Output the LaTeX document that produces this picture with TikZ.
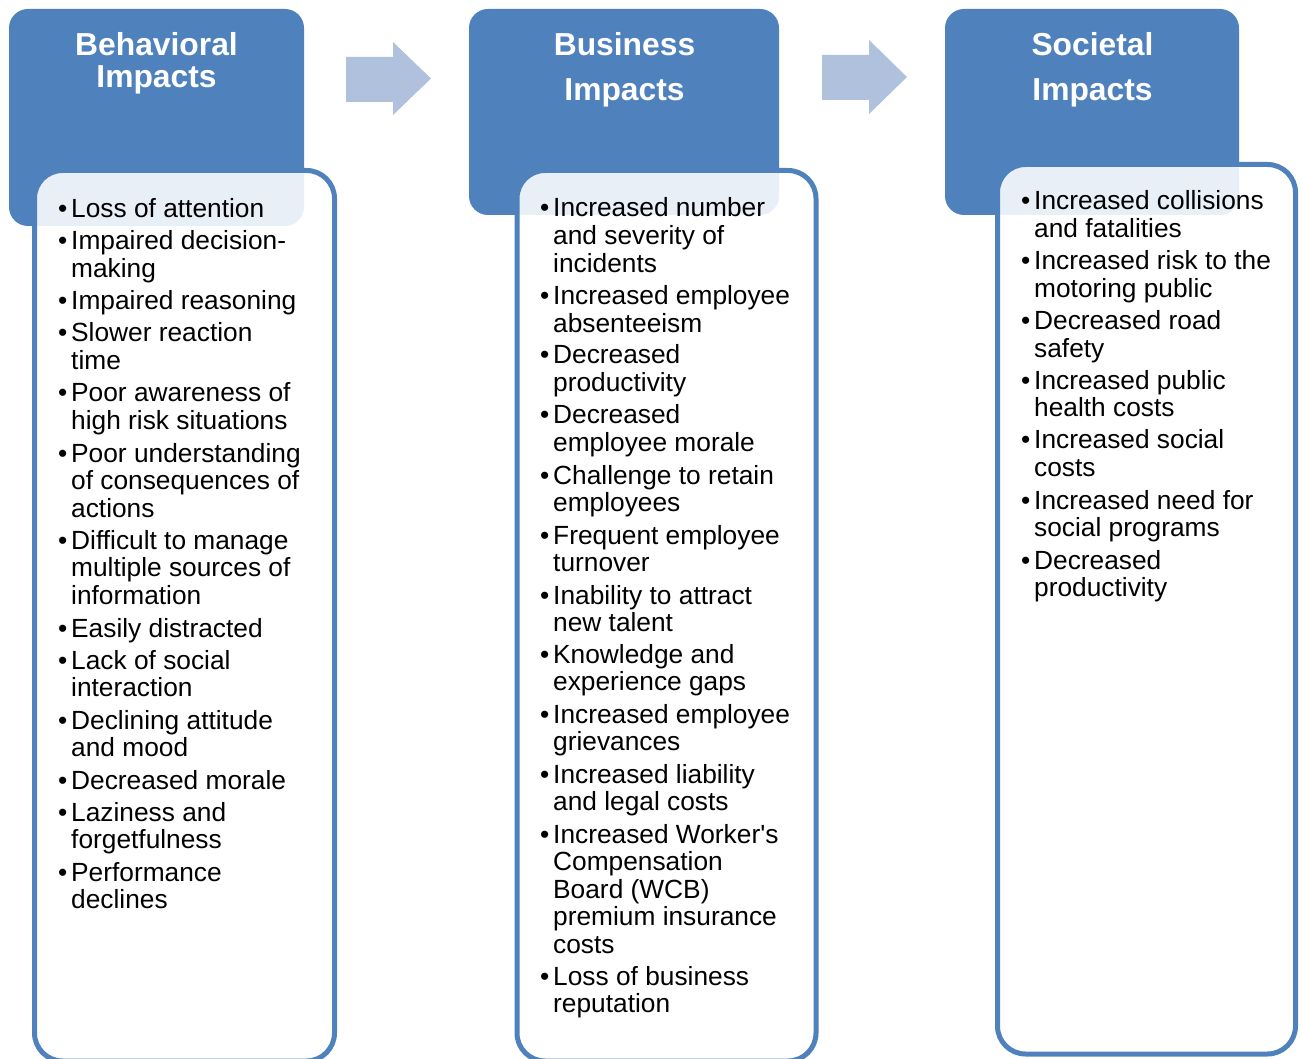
\documentclass[tikz,border=0pt]{standalone}
\usepackage{fontspec}
\setmainfont{Liberation Sans}
\newfontfamily\arialf{Liberation Sans}
\definecolor{hdr}{RGB}{79,129,189}
\definecolor{arrowc}{RGB}{175,193,221}
\tikzset{
  hdrbox/.style={fill=hdr, rounded corners=19pt},
  listbox/.style={draw=hdr, line width=5pt, fill=white, fill opacity=0.88, rounded corners=28pt},
  blockarrow/.style={fill=arrowc},
  bul/.style={anchor=base west, inner sep=0pt, font=\arialf\fontsize{26.3}{27.6}\selectfont},
  itm/.style={anchor=base west, inner sep=0pt, font=\arialf\fontsize{26.3}{27.6}\selectfont},
  title/.style={anchor=base, inner sep=0pt, text=white},
}
\newcommand\bitem[4]{%
  \node[bul] (#1-b) at (#2-13,#3+1) {•};
  \node[itm] (#1) at (#2,#3+1) {\parbox[t]{300pt}{\raggedright #4}};
}
\begin{document}
\begin{tikzpicture}[x=1pt,y=-1pt]
\useasboundingbox (0,0) rectangle (1302,1059);
\fill[white] (0,0) rectangle (1302,1059);
% headers
\fill[hdrbox] (9,9) rectangle (304,226);
\fill[hdrbox] (469,9) rectangle (779,215);
\fill[hdrbox] (945,9) rectangle (1239,215);
% list boxes
\draw[listbox] (34.5,170.5) rectangle (334.5,1061);
\draw[listbox] (517,170.5) rectangle (816,1061);
\draw[listbox] (997.5,164.5) rectangle (1295.5,1054);
% arrows
\fill[blockarrow] (346,57) -- (393,57) -- (393,42) -- (431,78.5) -- (393,115) -- (393,102) -- (346,102) -- cycle;
\fill[blockarrow] (822,55) -- (869,55) -- (869,40) -- (907,77) -- (869,114) -- (869,100) -- (822,100) -- cycle;
% titles
\node[title, font=\arialf\bfseries\fontsize{31.8}{32}\selectfont] (t1) at (156.5,55.5) {\parbox[t]{280pt}{\centering Behavioral\\Impacts}};
\node[title, font=\arialf\bfseries\fontsize{31.8}{45}\selectfont] (t2) at (624.5,55.5) {\parbox[t]{280pt}{\centering Business\\Impacts}};
\node[title, font=\arialf\bfseries\fontsize{31.8}{45}\selectfont] (t3) at (1092.5,55.5) {\parbox[t]{280pt}{\centering Societal\\Impacts}};
% column 1
\bitem{a1}{71}{217}{Loss of attention}
\bitem{a2}{71}{249}{Impaired decision-\\making}
\bitem{a3}{71}{309}{Impaired reasoning}
\bitem{a4}{71}{341}{Slower reaction\\time}
\bitem{a5}{71}{401}{Poor awareness of\\high risk situations}
\bitem{a6}{71}{461}{Poor understanding\\of consequences of\\actions}
\bitem{a7}{71}{548}{Difficult to manage\\multiple sources of\\information}
\bitem{a8}{71}{636}{Easily distracted}
\bitem{a9}{71}{668}{Lack of social\\interaction}
\bitem{a10}{71}{728}{Declining attitude\\and mood}
\bitem{a11}{71}{788}{Decreased morale}
\bitem{a12}{71}{820}{Laziness and\\forgetfulness}
\bitem{a13}{71}{880}{Performance\\declines}
% column 2
\bitem{b1}{553}{216}{Increased number\\and severity of\\incidents}
\bitem{b2}{553}{304}{Increased employee\\absenteeism}
\bitem{b3}{553}{363}{Decreased\\productivity}
\bitem{b4}{553}{423}{Decreased\\employee morale}
\bitem{b5}{553}{483}{Challenge to retain\\employees}
\bitem{b6}{553}{543}{Frequent employee\\turnover}
\bitem{b7}{553}{603}{Inability to attract\\new talent}
\bitem{b8}{553}{662}{Knowledge and\\experience gaps}
\bitem{b9}{553}{722}{Increased employee\\grievances}
\bitem{b10}{553}{782}{Increased liability\\and legal costs}
\bitem{b11}{553}{842}{Increased Worker's\\Compensation\\Board (WCB)\\premium insurance\\costs}
\bitem{b12}{553}{984}{Loss of business\\reputation}
% column 3
\bitem{c1}{1034}{209}{Increased collisions\\and fatalities}
\bitem{c2}{1034}{269}{Increased risk to the\\motoring public}
\bitem{c3}{1034}{329}{Decreased road\\safety}
\bitem{c4}{1034}{388}{Increased public\\health costs}
\bitem{c5}{1034}{448}{Increased social\\costs}
\bitem{c6}{1034}{508}{Increased need for\\social programs}
\bitem{c7}{1034}{568}{Decreased\\productivity}
\end{tikzpicture}
\end{document}
